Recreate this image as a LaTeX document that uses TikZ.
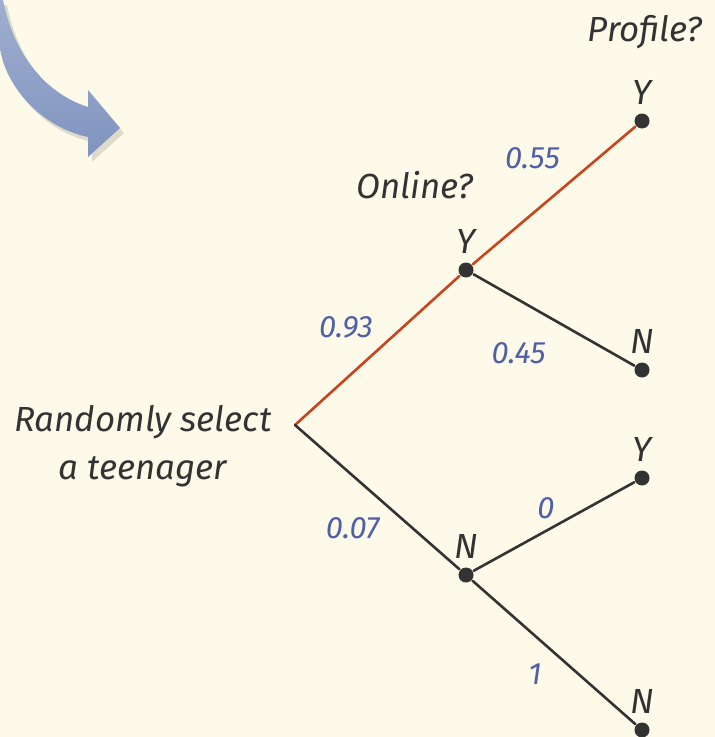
\documentclass[tikz,border=0pt]{standalone}
\usepackage{fontspec}
\setmainfont{Fira Sans}
\usetikzlibrary{positioning}
\definecolor{paper}{HTML}{FDFAEA}
\definecolor{ink}{HTML}{333333}
\definecolor{chosen}{HTML}{C9441C}
\definecolor{prob}{HTML}{4F5FA8}
\definecolor{swoop}{HTML}{8094BF}

\begin{document}
\begin{tikzpicture}[x=1bp, y=-1bp, line width=2.6bp, line cap=round,
        dot/.style={circle, fill=ink, inner sep=0pt, minimum size=15bp},
        lbl/.style={font=\fontsize{35}{48}\selectfont\itshape, text=ink, inner sep=1bp},
        pr/.style={font=\fontsize{31}{36}\selectfont\itshape, text=prob, inner sep=1bp}]
        \fill[paper] (0,0) rectangle (715,737);
        \useasboundingbox (0,0) rectangle (715,737);

        % big arrow in the corner
        \fill[black, opacity=0.12, shift={(4,5)}] (3,0) .. controls (15,60) and (50,95) .. (88,107) -- (88,90) -- (120,128) -- (88,157) -- (88,137) .. controls (40,127) and (5,85) .. (0,48) -- (0,0) -- cycle;
        \shade[top color=swoop!75!white, bottom color=swoop] (3,0) .. controls (15,60) and (50,95) .. (88,107) -- (88,90) -- (120,128) -- (88,157) -- (88,137) .. controls (40,127) and (5,85) .. (0,48) -- (0,0) -- cycle;

        \coordinate (root) at (295,425);
        \node[dot] (y) at (466,270) {};
        \node[dot] (n) at (466,575) {};
        \node[dot] (yy) at (642,121) {};
        \node[dot] (yn) at (642,370) {};
        \node[dot] (ny) at (642,478) {};
        \node[dot] (nn) at (642,730) {};

        \node[lbl, align=center] (start) at (143,446) {Randomly select\\a teenager};
        \node[lbl, above=5bp of y] (ylbl) {Y};
        \node[lbl, above=5bp of n] (nlbl) {N};
        \node[lbl, above=5bp of yy] (yylbl) {Y};
        \node[lbl, above=5bp of yn] (ynlbl) {N};
        \node[lbl, above=5bp of ny] (nylbl) {Y};
        \node[lbl, above=5bp of nn] (nnlbl) {N};
        \node[lbl] (online) at (415,185) {Online?};
        \node[lbl] (profile) at (645,32) {Profile?};

        \draw[chosen] (root) -- node[pr, above left=10bp and 2bp] {0.93} (y);
        \draw[chosen] (y) -- node[pr, above left=17bp and 0bp, pos=0.55] {0.55} (yy);
        \draw[ink] (y) -- node[pr, below left=16bp and 14bp, pos=0.55] {0.45} (yn);
        \draw[ink] (root) -- node[pr, below left=12bp and 2bp, pos=0.54] {0.07} (n);
        \draw[ink] (n) -- node[pr, above=10bp, pos=0.45] {0} (ny);
        \draw[ink] (n) -- node[pr, below left=16bp and 2bp, pos=0.45] {1} (nn);
    \end{tikzpicture}
\end{document}
